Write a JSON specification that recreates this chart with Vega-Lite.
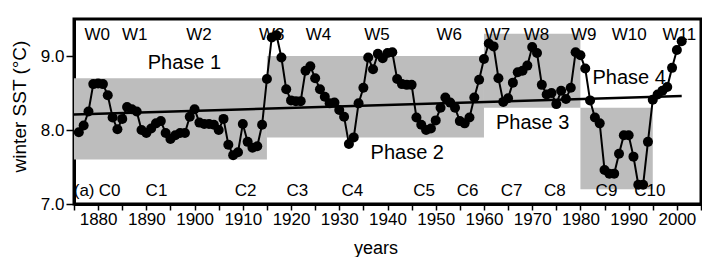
{
  "$schema": "https://vega.github.io/schema/vega-lite/v6.json",
  "width": 627,
  "height": 185,
  "autosize": {"type": "none"},
  "padding": {"left": 74, "top": 19, "right": 1, "bottom": 53},
  "background": "white",
  "config": {
    "view": {"stroke": "black", "strokeWidth": 3},
    "font": "Liberation Sans",
    "axis": {"grid": false, "domainColor": "black", "domainWidth": 3, "tickColor": "black", "tickWidth": 1.5, "labelColor": "black", "titleColor": "black", "titleFontWeight": "normal", "labelFlush": false, "labelOverlap": false, "zindex": 1}
  },
  "resolve": {"axis": {"x": "independent"}},
  "datasets": {
    "phases": [
      {"x1": 1875, "x2": 1915, "y1": 7.6, "y2": 8.7},
      {"x1": 1915, "x2": 1960, "y1": 7.9, "y2": 9.0},
      {"x1": 1960, "x2": 1980, "y1": 8.3, "y2": 9.3},
      {"x1": 1980, "x2": 1995, "y1": 7.2, "y2": 8.3}
    ],
    "wc": [
      {"year": 1879.8, "v": 9.29, "t": "W0"},
      {"year": 1887.6, "v": 9.29, "t": "W1"},
      {"year": 1900.9, "v": 9.29, "t": "W2"},
      {"year": 1916.0, "v": 9.29, "t": "W3"},
      {"year": 1925.7, "v": 9.29, "t": "W4"},
      {"year": 1937.8, "v": 9.29, "t": "W5"},
      {"year": 1952.8, "v": 9.29, "t": "W6"},
      {"year": 1962.8, "v": 9.29, "t": "W7"},
      {"year": 1970.9, "v": 9.29, "t": "W8"},
      {"year": 1980.7, "v": 9.29, "t": "W9"},
      {"year": 1990.1, "v": 9.29, "t": "W10"},
      {"year": 2000.5, "v": 9.29, "t": "W11"},
      {"year": 1877.1, "v": 7.17, "t": "(a)"},
      {"year": 1882.4, "v": 7.17, "t": "C0"},
      {"year": 1892.1, "v": 7.17, "t": "C1"},
      {"year": 1910.6, "v": 7.17, "t": "C2"},
      {"year": 1921.3, "v": 7.17, "t": "C3"},
      {"year": 1932.7, "v": 7.17, "t": "C4"},
      {"year": 1947.6, "v": 7.17, "t": "C5"},
      {"year": 1956.6, "v": 7.17, "t": "C6"},
      {"year": 1965.75, "v": 7.17, "t": "C7"},
      {"year": 1974.7, "v": 7.17, "t": "C8"},
      {"year": 1985.4, "v": 7.17, "t": "C9"},
      {"year": 1994.4, "v": 7.17, "t": "C10"}
    ],
    "phaselabels": [
      {"year": 1897.9, "v": 8.91, "t": "Phase 1"},
      {"year": 1944.1, "v": 7.69, "t": "Phase 2"},
      {"year": 1970.1, "v": 8.09, "t": "Phase 3"},
      {"year": 1990.1, "v": 8.70, "t": "Phase 4"}
    ],
    "trend": [
      {"year": 1875, "v": 8.21},
      {"year": 2001, "v": 8.46}
    ],
    "sst": [
      {"year": 1876, "v": 7.97}, {"year": 1877, "v": 8.06}, {"year": 1878, "v": 8.25}, {"year": 1879, "v": 8.62},
      {"year": 1880, "v": 8.63}, {"year": 1881, "v": 8.62}, {"year": 1882, "v": 8.47}, {"year": 1883, "v": 8.17},
      {"year": 1884, "v": 8.01}, {"year": 1885, "v": 8.15}, {"year": 1886, "v": 8.31}, {"year": 1887, "v": 8.28},
      {"year": 1888, "v": 8.25}, {"year": 1889, "v": 8.00}, {"year": 1890, "v": 7.96}, {"year": 1891, "v": 8.02},
      {"year": 1892, "v": 8.09}, {"year": 1893, "v": 8.12}, {"year": 1894, "v": 7.96}, {"year": 1895, "v": 7.88},
      {"year": 1896, "v": 7.93}, {"year": 1897, "v": 7.96}, {"year": 1898, "v": 7.96}, {"year": 1899, "v": 8.18},
      {"year": 1900, "v": 8.28}, {"year": 1901, "v": 8.10}, {"year": 1902, "v": 8.08}, {"year": 1903, "v": 8.08},
      {"year": 1904, "v": 8.07}, {"year": 1905, "v": 8.00}, {"year": 1906, "v": 8.15}, {"year": 1907, "v": 7.80},
      {"year": 1908, "v": 7.66}, {"year": 1909, "v": 7.70}, {"year": 1910, "v": 8.08}, {"year": 1911, "v": 7.84},
      {"year": 1912, "v": 7.76}, {"year": 1913, "v": 7.78}, {"year": 1914, "v": 8.07}, {"year": 1915, "v": 8.69},
      {"year": 1916, "v": 9.25}, {"year": 1917, "v": 9.28}, {"year": 1918, "v": 8.98}, {"year": 1919, "v": 8.55},
      {"year": 1920, "v": 8.40}, {"year": 1921, "v": 8.39}, {"year": 1922, "v": 8.39}, {"year": 1923, "v": 8.80},
      {"year": 1924, "v": 8.86}, {"year": 1925, "v": 8.70}, {"year": 1926, "v": 8.55}, {"year": 1927, "v": 8.45},
      {"year": 1928, "v": 8.36}, {"year": 1929, "v": 8.37}, {"year": 1930, "v": 8.27}, {"year": 1931, "v": 8.18},
      {"year": 1932, "v": 7.81}, {"year": 1933, "v": 7.90}, {"year": 1934, "v": 8.36}, {"year": 1935, "v": 8.57},
      {"year": 1936, "v": 8.98}, {"year": 1937, "v": 8.82}, {"year": 1938, "v": 9.03}, {"year": 1939, "v": 8.97},
      {"year": 1940, "v": 9.04}, {"year": 1941, "v": 9.05}, {"year": 1942, "v": 8.69}, {"year": 1943, "v": 8.62},
      {"year": 1944, "v": 8.61}, {"year": 1945, "v": 8.61}, {"year": 1946, "v": 8.17}, {"year": 1947, "v": 8.07},
      {"year": 1948, "v": 8.00}, {"year": 1949, "v": 8.02}, {"year": 1950, "v": 8.13}, {"year": 1951, "v": 8.30},
      {"year": 1952, "v": 8.44}, {"year": 1953, "v": 8.37}, {"year": 1954, "v": 8.30}, {"year": 1955, "v": 8.12},
      {"year": 1956, "v": 8.09}, {"year": 1957, "v": 8.17}, {"year": 1958, "v": 8.44}, {"year": 1959, "v": 8.68},
      {"year": 1960, "v": 8.96}, {"year": 1961, "v": 9.17}, {"year": 1962, "v": 9.13}, {"year": 1963, "v": 8.70},
      {"year": 1964, "v": 8.38}, {"year": 1965, "v": 8.43}, {"year": 1966, "v": 8.64}, {"year": 1967, "v": 8.78},
      {"year": 1968, "v": 8.80}, {"year": 1969, "v": 8.87}, {"year": 1970, "v": 9.12}, {"year": 1971, "v": 9.04},
      {"year": 1972, "v": 8.61}, {"year": 1973, "v": 8.48}, {"year": 1974, "v": 8.50}, {"year": 1975, "v": 8.35},
      {"year": 1976, "v": 8.53}, {"year": 1977, "v": 8.42}, {"year": 1978, "v": 8.57}, {"year": 1979, "v": 9.05},
      {"year": 1980, "v": 9.01}, {"year": 1981, "v": 8.83}, {"year": 1982, "v": 8.40}, {"year": 1983, "v": 8.17},
      {"year": 1984, "v": 8.09}, {"year": 1985, "v": 7.46}, {"year": 1986, "v": 7.41}, {"year": 1987, "v": 7.41},
      {"year": 1988, "v": 7.68}, {"year": 1989, "v": 7.93}, {"year": 1990, "v": 7.93}, {"year": 1991, "v": 7.64},
      {"year": 1992, "v": 7.26}, {"year": 1993, "v": 7.26}, {"year": 1994, "v": 7.84}, {"year": 1995, "v": 8.41},
      {"year": 1996, "v": 8.48}, {"year": 1997, "v": 8.53}, {"year": 1998, "v": 8.58}, {"year": 1999, "v": 8.84},
      {"year": 2000, "v": 9.08}, {"year": 2001, "v": 9.20}
    ]
  },
  "layer": [
    {
      "data": {"name": "phases"},
      "mark": {"type": "rect", "color": "#bdbdbd"},
      "encoding": {
        "x": {"field": "x1", "type": "quantitative", "scale": {"domain": [1875, 2005], "nice": false, "zero": false},
          "axis": {"orient": "bottom", "values": [1880, 1890, 1900, 1910, 1920, 1930, 1940, 1950, 1960, 1970, 1980, 1990, 2000],
            "format": "d", "tickSize": 6, "labelPadding": 1, "labelFontSize": 17,
            "title": "years", "titleFontSize": 18, "titleX": 301.5, "titleY": 49, "titleBaseline": "alphabetic"}},
        "x2": {"field": "x2"},
        "y": {"field": "y1", "type": "quantitative", "scale": {"domain": [7, 9.5], "nice": false, "zero": false},
          "axis": {"orient": "left", "values": [7, 7.5, 8, 8.5, 9, 9.5], "format": ".1f", "tickSize": 8, "labelPadding": 2, "labelFontSize": 17,
            "title": "winter SST (°C)", "titleFontSize": 19, "titleX": -49, "titleY": 87, "titleBaseline": "alphabetic"}},
        "y2": {"field": "y2"}
      }
    },
    {
      "data": {"name": "wc"},
      "mark": {"type": "text", "fontSize": 17, "color": "black", "align": "center", "baseline": "middle"},
      "encoding": {
        "x": {"field": "year", "type": "quantitative", "axis": null},
        "y": {"field": "v", "type": "quantitative"},
        "text": {"field": "t"}
      }
    },
    {
      "data": {"name": "phaselabels"},
      "mark": {"type": "text", "fontSize": 20, "color": "black", "align": "center", "baseline": "middle"},
      "encoding": {
        "x": {"field": "year", "type": "quantitative", "axis": null},
        "y": {"field": "v", "type": "quantitative"},
        "text": {"field": "t"}
      }
    },
    {
      "data": {"name": "trend"},
      "mark": {"type": "line", "color": "black", "strokeWidth": 2.5},
      "encoding": {
        "x": {"field": "year", "type": "quantitative",
          "axis": {"orient": "bottom", "values": [1875, 1885, 1895, 1905, 1915, 1925, 1935, 1945, 1955, 1965, 1975, 1985, 1995, 2005],
            "labels": false, "domain": false, "tickSize": 6, "title": null, "zindex": 1}},
        "y": {"field": "v", "type": "quantitative"}
      }
    },
    {
      "data": {"name": "sst"},
      "mark": {"type": "line", "color": "black", "strokeWidth": 2, "point": {"filled": true, "color": "black", "size": 100, "opacity": 1}},
      "encoding": {
        "x": {"field": "year", "type": "quantitative", "axis": null},
        "y": {"field": "v", "type": "quantitative"}
      }
    }
  ]
}
